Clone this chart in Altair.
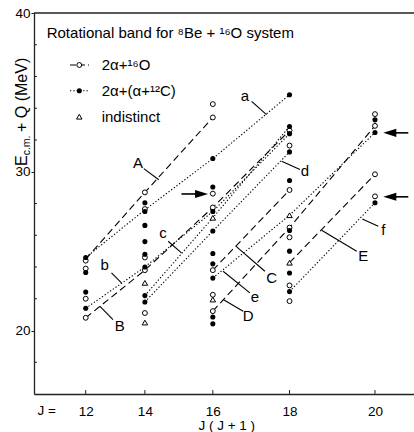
import altair as alt
import pandas as pd

FONT = "Liberation Sans"
W, H = 380, 381
X_DOMAIN = [108.8, 455.6]   # J(J+1)
Y_DOMAIN = [16, 40]         # MeV

# ---------------- data ----------------
J_TICKS = [12, 14, 16, 18, 20]

# 2alpha + 16O (open circles)
open_12 = [24.4, 23.9, 22.0, 20.8]
open_14 = [28.7, 27.65, 24.6, 23.8, 21.1]
open_16 = [34.26, 33.42, 28.62, 27.75, 23.8, 22.25, 21.22]
open_18 = [32.6, 31.65, 28.85, 26.48, 25.87, 22.84, 21.85]
open_20 = [33.63, 32.89, 29.84, 28.45]

# 2alpha + (alpha + 12C) (filled circles)
filled_12 = [24.6, 23.65, 22.42, 21.4]
filled_14 = [28.05, 27.5, 26.62, 25.6, 24.8, 24.0, 22.2, 21.8]
filled_16 = [30.83, 29.04, 27.5, 26.27, 24.85, 24.2, 23.3, 20.85, 20.42]
filled_18 = [34.85, 32.85, 32.4, 31.25, 29.45, 26.3, 25.0, 23.62, 22.45]
filled_20 = [33.27, 32.47, 28.05]

# indistinct (triangles)
tri_14 = [23.0, 20.5]
tri_16 = [27.1, 21.95]
tri_18 = [27.26, 24.27]

# rotational bands
band_names = ["A", "a", "B", "b", "c", "d", "C", "e", "D", "E", "f"]
band_styles = ["dashed", "dotted", "dashed", "dotted", "dotted", "dotted",
               "dashed", "dotted", "dashed", "dashed", "dotted"]
band_J = [[12, 14, 16], [12, 14, 16, 18], [12, 14, 16, 18], [12, 14, 16, 18],
          [14, 16, 18], [14, 16, 18], [16, 18], [16, 18, 20], [16, 18, 20],
          [18, 20], [18, 20]]
band_E = [[24.5, 28.7, 33.42], [24.6, 27.6, 30.83, 34.85], [20.8, 23.8, 27.75, 32.6],
          [21.4, 24.0, 27.5, 32.4], [22.2, 27.1, 32.85], [21.8, 26.27, 31.25],
          [23.8, 28.85], [23.3, 27.26, 32.47], [21.22, 26.48, 32.89],
          [24.27, 29.84], [22.45, 28.05]]

# band letter labels (in data units) and their leader lines
label_x = [203.8, 301.2, 187.1, 173.4, 226.6, 356.1, 325.6, 310.4, 304.3, 409.3, 427.6]
label_y = [30.56, 34.75, 20.27, 24.15, 26.15, 30.03, 23.32, 22.12, 20.9, 24.68, 26.36]
leader_x1 = [209.0, 307.4, 168.8, 179.5, 231.2, 334.8, 293.0, 281.4, 281.4, 371.3, 408.4]
leader_y1 = [30.2, 34.43, 21.53, 23.63, 25.62, 30.66, 25.31, 23.73, 21.95, 26.31, 27.03]
leader_x2 = [222.7, 321.0, 180.9, 188.6, 243.4, 351.5, 319.5, 305.8, 299.7, 403.3, 423.0]
leader_y2 = [29.5, 33.6, 20.69, 23.0, 24.89, 30.14, 23.73, 22.37, 21.21, 24.99, 26.57]

# arrows
arrow_y = [28.6, 32.45, 28.42]
arrow_tail = [243.4, 450.4, 450.4]
arrow_head = [261.7, 433.5, 433.5]
arrow_dir = ["right", "left", "left"]

MINOR_Y = [18, 22, 24, 26, 28, 32, 34, 36, 38]

# ---------------- tables ----------------
def jj(j):
    return j * (j + 1)

rows = []
for kind, groups in [("open", [(12, open_12), (14, open_14), (16, open_16), (18, open_18), (20, open_20)]),
                     ("filled", [(12, filled_12), (14, filled_14), (16, filled_16), (18, filled_18), (20, filled_20)]),
                     ("tri", [(14, tri_14), (16, tri_16), (18, tri_18)])]:
    for j, vals in groups:
        for e in vals:
            rows.append({"x": jj(j), "E": e, "kind": kind})
pts = pd.DataFrame(rows)

brows = []
for name, style, js, es in zip(band_names, band_styles, band_J, band_E):
    for i, (j, e) in enumerate(zip(js, es)):
        brows.append({"band": name, "style": style, "x": jj(j), "E": e, "o": i})
bands = pd.DataFrame(brows)

labels = pd.DataFrame({"t": band_names, "x": label_x, "E": label_y,
                       "x1": leader_x1, "y1": leader_y1, "x2": leader_x2, "y2": leader_y2})
arrows = pd.DataFrame({"y": arrow_y, "tail": arrow_tail, "head": arrow_head, "dir": arrow_dir})
xticks = pd.DataFrame({"x": [jj(j) for j in J_TICKS]})
yminor = pd.DataFrame({"E": MINOR_Y})

# ---------------- encodings ----------------
xs = alt.Scale(domain=X_DOMAIN, nice=False, zero=False)
ys = alt.Scale(domain=Y_DOMAIN, nice=False, zero=False)
x_axis = alt.Axis(values=[jj(j) for j in J_TICKS],
                  labelExpr="format((sqrt(1 + 4 * datum.value) - 1) / 2, 'd')",
                  title=None, ticks=False, labelPadding=17, labelBaseline="middle",
                  labelFontSize=13.5, grid=False)
y_axis = alt.Axis(values=[20, 30, 40], title=None, tickSize=3, labelPadding=1,
                  labelFontSize=13.5, grid=False)

def X(f="x"):
    return alt.X(f"{f}:Q", scale=xs, axis=x_axis)

def Y(f="E"):
    return alt.Y(f"{f}:Q", scale=ys, axis=y_axis)

lines = alt.Chart(bands).mark_line(color="black", strokeWidth=1.1, strokeCap="butt").encode(
    x=X(), y=Y(), detail="band:N", order="o:Q",
    strokeDash=alt.StrokeDash("style:N", scale=alt.Scale(domain=["dashed", "dotted"],
                                                         range=[[7, 4], [1.3, 2]]), legend=None))

open_pts = alt.Chart(pts[pts.kind == "open"]).mark_point(
    shape="circle", filled=True, fill="white", stroke="black", strokeWidth=1, size=24, opacity=1
).encode(x=X(), y=Y())
filled_pts = alt.Chart(pts[pts.kind == "filled"]).mark_circle(color="black", size=26, opacity=1).encode(x=X(), y=Y())
tri_pts = alt.Chart(pts[pts.kind == "tri"]).mark_point(
    shape="triangle-up", filled=True, fill="white", stroke="black", strokeWidth=1, size=30, opacity=1
).encode(x=X(), y=Y())

leaders = alt.Chart(labels).mark_rule(color="black", strokeWidth=1.1).encode(
    x=X("x1"), y=Y("y1"), x2="x2:Q", y2="y2:Q")
letters = alt.Chart(labels).mark_text(font=FONT, fontSize=15, color="black",
                                      align="center", baseline="middle").encode(
    x=X(), y=Y(), text="t:N")

shafts = alt.Chart(arrows).mark_rule(color="black", strokeWidth=1.6).encode(
    x=X("tail"), x2="head:Q", y=Y("y"))
heads = alt.Chart(arrows).mark_point(filled=True, color="black", size=169, opacity=1).encode(
    x=X("head"), y=Y("y"),
    shape=alt.Shape("dir:N", scale=alt.Scale(domain=["right", "left"],
                                             range=["M-1,-0.62L1,0L-1,0.62Z", "M1,-0.62L-1,0L1,0.62Z"]),
                    legend=None))

# inner tick marks
bottom_ticks = alt.Chart(xticks).mark_rule(color="#222", strokeWidth=1).encode(
    x=X(), y=alt.value(H - 4), y2=alt.value(H))
left_minor = alt.Chart(yminor).mark_rule(color="#222", strokeWidth=1).encode(
    y=Y(), x=alt.value(0), x2=alt.value(3))
top_line = alt.Chart(xticks.head(1)).mark_rule(color="#222", strokeWidth=1.3).encode(
    x=alt.value(0), x2=alt.value(W), y=alt.value(0))

# legend box
title_txt = alt.Chart(pd.DataFrame({"t": ["Rotational band for \u2078Be + \u00b9\u2076O system"]})).mark_text(
    font=FONT, fontSize=15, align="left", baseline="middle", color="black").encode(
    x=alt.value(12.7), y=alt.value(20.3), text="t:N")
leg_txt = alt.Chart(pd.DataFrame({"t": ["2\u03b1+\u00b9\u2076O", "2\u03b1+(\u03b1+\u00b9\u00b2C)", "indistinct"],
                                  "py": [52, 77.7, 103.7]})).mark_text(
    font=FONT, fontSize=15, align="left", baseline="middle", color="black").encode(
    x=alt.value(67.7), y=alt.Y("py:Q", scale=None), text="t:N")
leg_dash = alt.Chart(pd.DataFrame({"k": [0]})).mark_rule(color="black", strokeWidth=1.1, strokeDash=[6, 3]).encode(
    x=alt.value(36), x2=alt.value(55), y=alt.value(52))
leg_dot = alt.Chart(pd.DataFrame({"k": [0]})).mark_rule(color="black", strokeWidth=1.1, strokeDash=[1.3, 2]).encode(
    x=alt.value(36), x2=alt.value(55), y=alt.value(77.7))
leg_open = alt.Chart(pd.DataFrame({"k": [0]})).mark_point(
    shape="circle", filled=True, fill="white", stroke="black", strokeWidth=1, size=24, opacity=1).encode(
    x=alt.value(45.3), y=alt.value(52))
leg_filled = alt.Chart(pd.DataFrame({"k": [0]})).mark_circle(color="black", size=26, opacity=1).encode(
    x=alt.value(45.3), y=alt.value(77.7))
leg_tri = alt.Chart(pd.DataFrame({"k": [0]})).mark_point(
    shape="triangle-up", filled=True, fill="white", stroke="black", strokeWidth=1, size=30, opacity=1).encode(
    x=alt.value(45.3), y=alt.value(103.7))

# axis titles
def txt(t, px, py, size, angle=0, align="left", baseline="alphabetic"):
    return alt.Chart(pd.DataFrame({"t": [t]})).mark_text(
        font=FONT, fontSize=size, angle=angle, align=align, baseline=baseline, color="black").encode(
        x=alt.value(px), y=alt.value(py), text="t:N")

ytitle = [txt("E", -7.5, 153, 16, angle=270),
          txt("c.m.", -4.0, 142.3, 10.5, angle=270),
          txt("+ Q (MeV)", -7.5, 119, 16, angle=270)]
jeq = txt("J =", 12.7, 398, 13.5, align="center", baseline="middle")
xtitle = txt("J ( J + 1 )", 192.7, 413, 13.5, align="center", baseline="middle")

chart = alt.layer(
    lines, leaders, shafts, heads, open_pts, filled_pts, tri_pts, letters,
    bottom_ticks, left_minor, top_line,
    title_txt, leg_dash, leg_dot, leg_open, leg_filled, leg_tri, leg_txt,
    *ytitle, jeq, xtitle
).properties(
    width=W, height=H,
    padding={"left": 34, "top": 13, "right": 0, "bottom": 38},
    autosize=alt.AutoSizeParams(type="none"),
).configure_view(stroke=None).configure_axis(
    domainColor="#222", domainWidth=1.3, tickColor="#222", labelColor="black",
    labelFont=FONT, grid=False
)

chart.save("out.html", embed_options={"renderer": "svg", "actions": False})
